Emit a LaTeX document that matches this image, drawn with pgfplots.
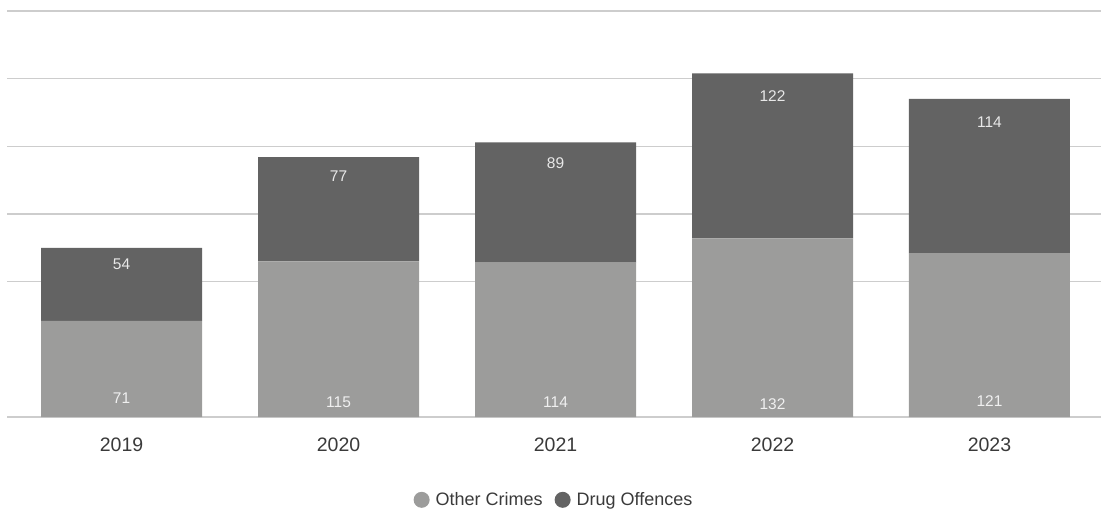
\documentclass[border=0pt]{standalone}
\usepackage{pgfplots}
\pgfplotsset{compat=1.18}
\usepackage{fontspec}
\setmainfont{Liberation Sans}
\definecolor{lightbar}{HTML}{9C9C9B}
\definecolor{darkbar}{HTML}{636363}
\definecolor{gridc}{HTML}{CDCDCD}
\definecolor{txt}{HTML}{3A3A3A}
\definecolor{lbllight}{HTML}{F0F0F0}
\definecolor{lbldark}{HTML}{E8E8E8}
\begin{document}
\begin{tikzpicture}
\useasboundingbox (-7pt,-95pt) rectangle (1096pt,417pt);
\begin{axis}[
  at={(0pt,0pt)}, anchor=south west,
  scale only axis, width=1094pt, height=406pt,
  xmin=-0.528, xmax=4.514, ymin=0, ymax=300,
  ybar stacked, bar width=161pt,
  axis line style={draw=none},
  ytick={0,100,150,200,250,300}, yticklabels={},
  ymajorgrids, grid style={gridc, line width=1.4pt},
  major tick style={draw=none},
  xtick={0,1,2,3,4}, xticklabels={2019,2020,2021,2022,2023},
  xticklabel style={anchor=center, yshift=-28pt, font=\fontsize{19.5}{22}\selectfont, text=txt},
  legend style={at={(0.5,-0.204)}, anchor=center, draw=none, fill=none,
    legend columns=2, font=\fontsize{18}{20}\selectfont, text=txt,
    /tikz/every even column/.append style={column sep=10pt}},
]
\addplot[fill=lightbar, draw=none, legend image code/.code={\fill[lightbar] (8pt,0pt) circle (8pt);\path (0pt,0pt) (20pt,0pt);}]
  coordinates {(0,71) (1,115) (2,114) (3,132) (4,121)};
\addplot[fill=darkbar, draw=none, legend image code/.code={\fill[darkbar] (8pt,0pt) circle (8pt);\path (0pt,0pt) (20pt,0pt);}]
  coordinates {(0,54) (1,77) (2,89) (3,122) (4,114)};
\legend{Other Crimes, Drug Offences}
\end{axis}
\begin{axis}[
  at={(0pt,0pt)}, anchor=south west,
  scale only axis, width=1094pt, height=406pt,
  xmin=-0.528, xmax=4.514, ymin=0, ymax=300,
  hide axis,
  point meta=explicit symbolic,
  nodes near coords,
  every node near coord/.style={anchor=center, font=\fontsize{15.5}{17}\selectfont},
]
\addplot[draw=none, mark=none, nodes near coords, every node near coord/.append style={text=lbllight}]
  table[meta=lbl] {
x y lbl
0 14.0 71
1 10.7 115
2 11.1 114
3 9.6 132
4 11.8 121
};
\addplot[draw=none, mark=none, nodes near coords, every node near coord/.append style={text=lbldark}]
  table[meta=lbl] {
x y lbl
0 112.6 54
1 177.6 77
2 187.9 89
3 236.8 122
4 218.0 114
};
\end{axis}
\end{tikzpicture}
\end{document}
